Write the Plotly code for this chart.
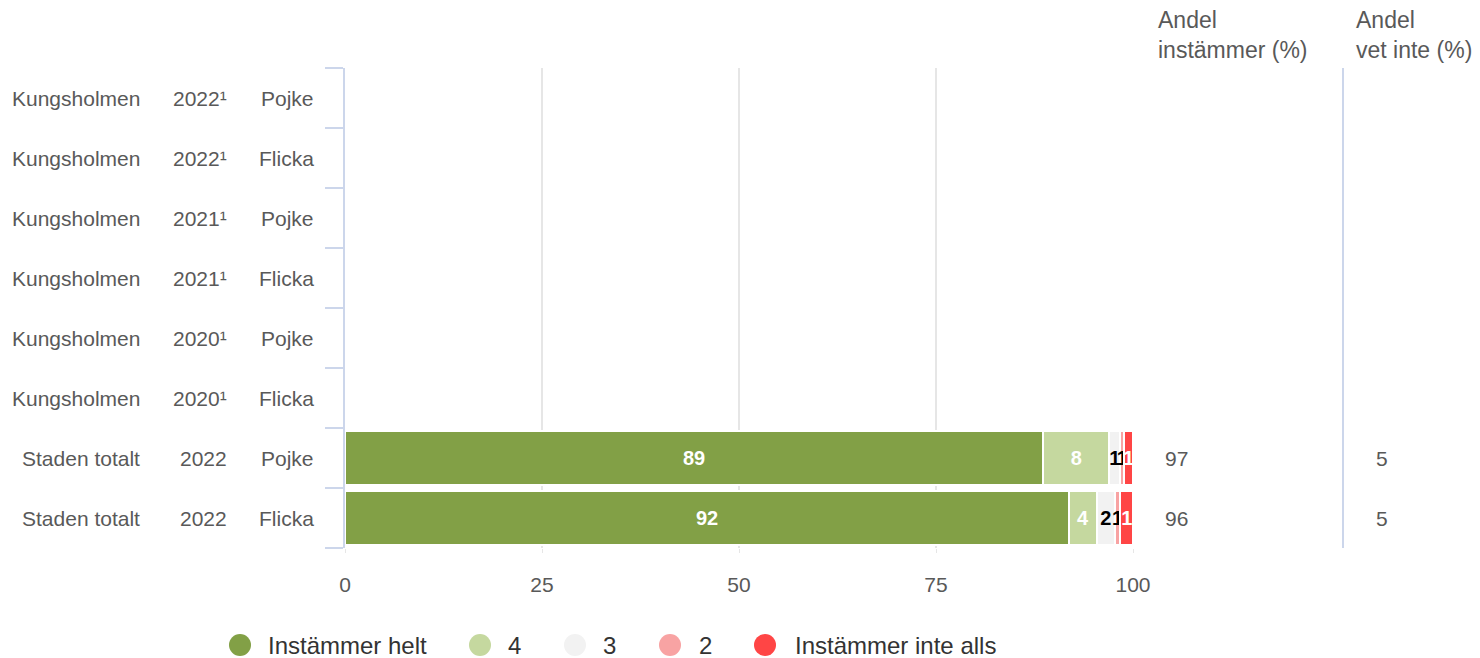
import plotly.graph_objects as go

regions = ["Kungsholmen", "Kungsholmen", "Kungsholmen", "Kungsholmen", "Kungsholmen", "Kungsholmen", "Staden totalt", "Staden totalt"]
years = ["2022¹", "2022¹", "2021¹", "2021¹", "2020¹", "2020¹", "2022", "2022"]
genders = ["Pojke", "Flicka", "Pojke", "Flicka", "Pojke", "Flicka", "Pojke", "Flicka"]

series_names = ["Instämmer helt", "4", "3", "2", "Instämmer inte alls"]
v_helt = [None, None, None, None, None, None, 88.6, 91.9]
v_4 = [None, None, None, None, None, None, 8.4, 3.5]
v_3 = [None, None, None, None, None, None, 1.4, 2.3]
v_2 = [None, None, None, None, None, None, 0.5, 0.7]
v_inte = [None, None, None, None, None, None, 1.1, 1.6]
labels_helt = ["", "", "", "", "", "", "89", "92"]
labels_4 = ["", "", "", "", "", "", "8", "4"]
labels_3 = ["", "", "", "", "", "", "1", "2"]
labels_2 = ["", "", "", "", "", "", "1", "1"]
labels_inte = ["", "", "", "", "", "", "1", "1"]
andel_instammer = ["", "", "", "", "", "", "97", "96"]
andel_vet_inte = ["", "", "", "", "", "", "5", "5"]
x_ticks = [0, 25, 50, 75, 100]

colors = ["#82a046", "#c5d89f", "#f2f2f2", "#f8a3a3", "#ff4545"]
text_colors = ["white", "white", "black", "black", "white"]

FONT = "Liberation Sans, Arial, sans-serif"
W, H = 1480, 658
L, R, T, B = 345, 347, 68, 110
pw = W - L - R
ph = H - T - B


def px2paper_x(px):
    return (px - L) / pw


def px2paper_y(py):
    return (H - B - py) / ph


fig = go.Figure()
ys = list(range(len(regions)))
all_vals = [v_helt, v_4, v_3, v_2, v_inte]
all_labels = [labels_helt, labels_4, labels_3, labels_2, labels_inte]
for name, vals, labs, col, tcol in zip(series_names, all_vals, all_labels, colors, text_colors):
    fig.add_trace(go.Bar(
        x=vals, y=ys, orientation="h", name=name,
        marker=dict(color=col, line=dict(color="white", width=2)),
        width=0.9, text=labs, textposition="inside", insidetextanchor="middle",
        textfont=dict(color=tcol, size=20, family=FONT, weight="bold"),
        constraintext="none", showlegend=False, hoverinfo="x+name",
        cliponaxis=False,
    ))

annotations = []
for i in ys:
    for txt, px in ((regions[i], 142), (years[i], 229), (genders[i], 316)):
        annotations.append(dict(x=px2paper_x(px), xref="paper", y=i, yref="y", text=txt,
                                xanchor="right", yanchor="middle", showarrow=False,
                                font=dict(family=FONT, size=21, color="#595959")))
    if andel_instammer[i]:
        annotations.append(dict(x=px2paper_x(1163), xref="paper", y=i, yref="y", text=andel_instammer[i],
                                xanchor="left", yanchor="middle", showarrow=False,
                                font=dict(family=FONT, size=21, color="#595959")))
    if andel_vet_inte[i]:
        annotations.append(dict(x=px2paper_x(1374), xref="paper", y=i, yref="y", text=andel_vet_inte[i],
                                xanchor="left", yanchor="middle", showarrow=False,
                                font=dict(family=FONT, size=21, color="#595959")))

annotations.append(dict(x=px2paper_x(1156), xref="paper", y=px2paper_y(5), yref="paper",
                        text="Andel<br>instämmer (%)", xanchor="left", yanchor="top", align="left",
                        showarrow=False, font=dict(family=FONT, size=23, color="#595959")))
annotations.append(dict(x=px2paper_x(1354), xref="paper", y=px2paper_y(5), yref="paper",
                        text="Andel<br>vet inte (%)", xanchor="left", yanchor="top", align="left",
                        showarrow=False, font=dict(family=FONT, size=23, color="#595959")))

shapes = [dict(type="line", xref="paper", yref="paper", x0=px2paper_x(1343), x1=px2paper_x(1343),
               y0=0, y1=1, line=dict(color="#ccd6eb", width=2))]

# legend (circle symbols + labels)
legend_circle_px = [240, 480, 575, 670, 765]
legend_text_px = [266, 506, 601, 697, 793]
ly = px2paper_y(645)
rx = 11 / pw
ry = 11 / ph
for name, col, cx, tx in zip(series_names, colors, legend_circle_px, legend_text_px):
    c = px2paper_x(cx)
    shapes.append(dict(type="circle", xref="paper", yref="paper", x0=c - rx, x1=c + rx,
                       y0=ly - ry, y1=ly + ry, fillcolor=col, line=dict(width=0)))
    annotations.append(dict(x=px2paper_x(tx), xref="paper", y=ly, yref="paper", text=name,
                            xanchor="left", yanchor="middle", showarrow=False,
                            font=dict(family=FONT, size=24, color="#333333")))

fig.update_layout(
    width=W, height=H, barmode="stack", bargap=0.1,
    margin=dict(l=L, r=R, t=T, b=B, autoexpand=False),
    paper_bgcolor="white", plot_bgcolor="white",
    font=dict(family=FONT, size=19, color="#595959"),
    uniformtext=dict(minsize=19, mode="show"),
    showlegend=False,
    xaxis=dict(range=[0, 100], tickvals=x_ticks, showgrid=True, gridcolor="#e6e6e6", gridwidth=2,
               zeroline=False, showline=False, ticks="outside", ticklen=4, tickcolor="#e6e6e6",
               ticklabelstandoff=14,
               tickfont=dict(family=FONT, size=21, color="#595959")),
    yaxis=dict(range=[7.5, -0.5], tickvals=[i - 0.5 for i in range(9)], showticklabels=False,
               ticks="outside", ticklen=18, tickcolor="#ccd6eb", tickwidth=2,
               showline=True, linecolor="#ccd6eb", linewidth=2, showgrid=False, zeroline=False),
    annotations=annotations, shapes=shapes,
)

fig.write_html("out.html", config={"displayModeBar": False},
               post_script="document.body.style.margin='0';")
